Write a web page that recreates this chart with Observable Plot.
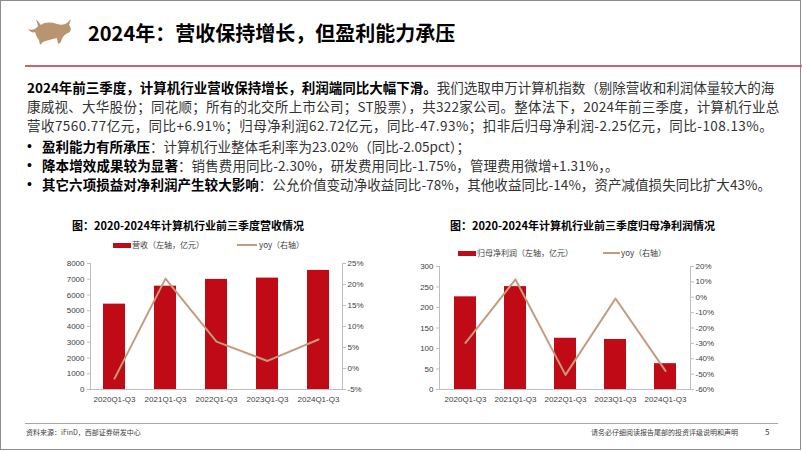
<!DOCTYPE html>
<html><head><meta charset="utf-8">
<script src="https://cdn.jsdelivr.net/npm/d3@7"></script>
<script src="https://cdn.jsdelivr.net/npm/@observablehq/plot@0.6"></script>
<style>
body{margin:0;background:#fff;}
#slide{position:relative;width:802px;height:451px;overflow:hidden;font-family:"Noto Sans CJK SC",sans-serif;background:#fff;}
#border{position:absolute;left:0;top:0;width:799px;height:448px;border:1px solid #8c8c8c;}
.abs{position:absolute;white-space:nowrap;}
#title{left:88px;top:19px;font-size:20px;font-weight:700;color:#000;line-height:28px;}
#hrule{left:25px;top:65px;width:777px;height:2px;background:#c4676b;}
.body{left:27px;font-size:13.5px;line-height:19px;color:#333;}
.body b{color:#000;font-weight:700;}
.bul{left:27px;font-size:14px;color:#000;font-family:"Liberation Sans",Arial,sans-serif;line-height:19px;}
.ctitle{font-size:11px;font-weight:700;color:#000;line-height:14px;}
.leg{font-size:8px;color:#404040;line-height:10px;}
.sw{position:absolute;}
.foot{font-size:7px;color:#404040;line-height:10px;}
</style></head><body>
<div id="slide">
<div id="border"></div>
<svg class="abs" style="left:27px;top:18px" width="46" height="28" viewBox="0 0 46 28">
<path fill="#b99470" d="M1,11 C5,13 9,11 11,8 L9,1 L14,7 C18,4 24,4 30,6 C34,7 37,7 40,5 L44,1 L42,7 C45,10 44,14 41,15 C38,16 35,19 34,24 L31,26 L30,20 C26,21 20,22 16,24 L13,27 L12,22 C10,20 9,17 8,14 C6,15 3,14 1,11 Z"/>
</svg>
<div id="title" class="abs">2024年：营收保持增长，但盈利能力承压</div>
<div id="hrule" class="abs"></div>

<div class="abs body" style="top:78px"><b>2024年前三季度，计算机行业营收保持增长，利润端同比大幅下滑。</b>我们选取申万计算机指数（剔除营收和利润体量较大的海</div>
<div class="abs body" style="top:97px;letter-spacing:0.27px">康威视、大华股份；同花顺；所有的北交所上市公司；ST股票），共322家公司。整体法下，2024年前三季度，计算机行业总</div>
<div class="abs body" style="top:116px;letter-spacing:0.45px">营收7560.77亿元，同比+6.91%；归母净利润62.72亿元，同比-47.93%；扣非后归母净利润-2.25亿元，同比-108.13%。</div>
<div class="abs bul" style="top:137px">•</div>
<div class="abs body" style="left:42px;top:137px"><b>盈利能力有所承压</b>：计算机行业整体毛利率为23.02%（同比-2.05pct）；</div>
<div class="abs bul" style="top:156px">•</div>
<div class="abs body" style="left:42px;top:156px;letter-spacing:0.1px"><b>降本增效成果较为显著</b>：销售费用同比-2.30%，研发费用同比-1.75%，管理费用微增+1.31%，。</div>
<div class="abs bul" style="top:175px">•</div>
<div class="abs body" style="left:42px;top:175px;letter-spacing:0.05px"><b>其它六项损益对净利润产生较大影响</b>：公允价值变动净收益同比-78%，其他收益同比-14%，资产减值损失同比扩大43%。</div>

<div class="abs ctitle" style="left:72px;top:218px">图：2020-2024年计算机行业前三季度营收情况</div>
<div class="abs ctitle" style="left:450px;top:218px">图：2020-2024年计算机行业前三季度归母净利润情况</div>

<div class="abs leg" style="left:113px;top:240px"><span class="sw" style="left:0;top:3px;width:18px;height:5px;background:#c00a16"></span><span style="position:absolute;left:19px;top:0">营收（左轴，亿元）</span><span class="sw" style="left:124px;top:4px;width:20px;height:2px;background:#c49c7c"></span><span style="position:absolute;left:146px;top:0">yoy（右轴）</span></div>
<div class="abs leg" style="left:458px;top:248px"><span class="sw" style="left:0;top:3px;width:18px;height:5px;background:#c00a16"></span><span style="position:absolute;left:19px;top:0">归母净利润（左轴，亿元）</span><span class="sw" style="left:145px;top:4px;width:17px;height:2px;background:#c49c7c"></span><span style="position:absolute;left:163px;top:0">yoy（右轴）</span></div>

<div id="c1" class="abs" style="left:40px;top:255px"></div>
<div id="c2" class="abs" style="left:390px;top:255px"></div>

<div class="abs" style="left:25px;top:423px;width:753px;height:1px;background:#a6a6a6"></div>
<div class="abs foot" style="left:26px;top:427px">资料来源：iFinD，西部证券研发中心</div>
<div class="abs foot" style="left:591px;top:427px">请务必仔细阅读报告尾部的投资评级说明和声明</div>
<div class="abs foot" style="left:765px;top:427px;font-size:8px">5</div>
</div>
<script>
const periods = ["2020Q1-Q3","2021Q1-Q3","2022Q1-Q3","2023Q1-Q3","2024Q1-Q3"];
const revenue = [5420, 6560, 6990, 7073, 7561];
const revenueYoy = [-2.4, 21.4, 6.4, 1.8, 6.91];
const netProfit = [226, 251, 125, 122, 63];
const netProfitYoy = [-29.7, 11.6, -50.5, -0.8, -47.93];
const revTicks = [0,1000,2000,3000,4000,5000,6000,7000,8000];
const revYoyTicks = [-5,0,5,10,15,20,25];
const npTicks = [0,50,100,150,200,250,300];
const npYoyTicks = [-60,-50,-40,-30,-20,-10,0,10,20];

function dualChart(o){
  const toLeft = d3.scaleLinear().domain(o.rightDomain).range(o.leftDomain);
  const data = periods.map((p,i)=>({p, v:o.values[i], yl:toLeft(o.yoy[i])}));
  return Plot.plot({
    width:o.width, height:o.height,
    marginLeft:o.ml, marginRight:o.mr, marginTop:o.mt, marginBottom:o.mb,
    style:{fontFamily:"'Liberation Sans',Arial,sans-serif", fontSize:"8px", color:"#404040", background:"transparent", overflow:"visible"},
    x:{domain:periods, paddingInner:0.56, paddingOuter:0.25, label:null},
    y:{domain:o.leftDomain, label:null},
    marks:[
      Plot.frame({anchor:"left", stroke:"#bfbfbf"}),
      Plot.frame({anchor:"right", stroke:"#bfbfbf"}),
      Plot.frame({anchor:"bottom", stroke:"#bfbfbf"}),
      Plot.barY(data,{x:"p", y:"v", fill:"#c00a16"}),
      Plot.lineY(data,{x:"p", y:"yl", stroke:"#c49c7c", strokeWidth:2}),
      Plot.axisY(o.leftTicks,{anchor:"left", tickSize:3, tickPadding:3, stroke:"#bfbfbf", label:null, tickFormat:d=>String(d)}),
      Plot.axisY(o.rightTicks.map(toLeft),{anchor:"right", tickSize:3, tickPadding:2, stroke:"#bfbfbf", label:null, tickFormat:d=>Math.round(toLeft.invert(d))+"%"}),
      Plot.axisX({tickSize:0, tickPadding:7, label:null})
    ]
  });
}
document.getElementById("c1").appendChild(dualChart({
  values:revenue, yoy:revenueYoy, leftDomain:[0,8000], rightDomain:[-5,25],
  leftTicks:revTicks, rightTicks:revYoyTicks,
  width:340, height:158, ml:50, mr:38, mt:8, mb:24
}));
document.getElementById("c2").appendChild(dualChart({
  values:netProfit, yoy:netProfitYoy, leftDomain:[0,300], rightDomain:[-60,20],
  leftTicks:npTicks, rightTicks:npYoyTicks,
  width:340, height:158, ml:49, mr:40, mt:11, mb:24
}));
</script>
</body></html>
